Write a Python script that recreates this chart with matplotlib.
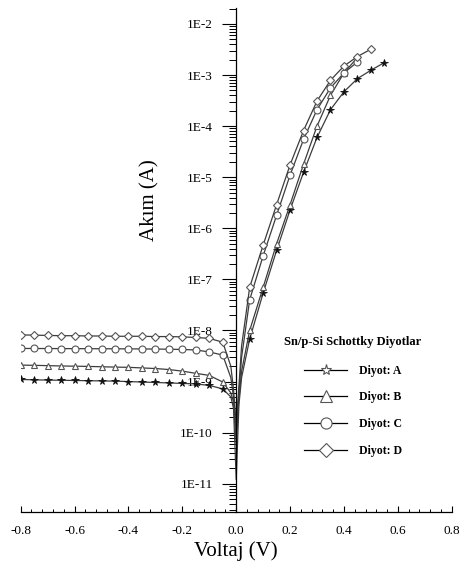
import math
import matplotlib
matplotlib.use("Agg")
import matplotlib.pyplot as plt
from matplotlib.lines import Line2D
from matplotlib.ticker import LogLocator, FixedLocator, MultipleLocator, FuncFormatter, NullFormatter

plt.rcParams['font.family'] = ['Liberation Serif', 'DejaVu Serif']
plt.rcParams['axes.unicode_minus'] = False

# I-V data for the four Sn/p-Si diodes (voltage in V, current in A)
v_a = [-0.80, -0.75, -0.70, -0.65, -0.60, -0.55, -0.50, -0.45, -0.40, -0.35, -0.30,
       -0.25, -0.20, -0.15, -0.10, -0.05, -0.02, -0.01, 0.00, 0.01, 0.02,
       0.05, 0.10, 0.15, 0.20, 0.25, 0.30, 0.35, 0.40, 0.45, 0.50, 0.55]
i_a = [1.10e-9, 1.08e-9, 1.07e-9, 1.06e-9, 1.05e-9, 1.04e-9, 1.03e-9, 1.02e-9, 1.00e-9, 0.98e-9, 0.96e-9,
       0.94e-9, 0.92e-9, 0.90e-9, 0.84e-9, 0.72e-9, 5.0e-10, 3.0e-10, 1.2e-11, 3.5e-10, 1.2e-9,
       6.8e-9, 5.4e-8, 3.7e-7, 2.3e-6, 1.25e-5, 6.0e-5, 2.1e-4, 4.7e-4, 8.5e-4, 1.24e-3, 1.75e-3]

v_b = [-0.80, -0.75, -0.70, -0.65, -0.60, -0.55, -0.50, -0.45, -0.40, -0.35, -0.30,
       -0.25, -0.20, -0.15, -0.10, -0.05, -0.02, -0.01, 0.00, 0.01, 0.02,
       0.05, 0.10, 0.15, 0.20, 0.25, 0.30, 0.35, 0.40, 0.45]
i_b = [2.10e-9, 2.08e-9, 2.05e-9, 2.02e-9, 2.00e-9, 1.98e-9, 1.95e-9, 1.92e-9, 1.90e-9, 1.85e-9, 1.80e-9,
       1.72e-9, 1.60e-9, 1.45e-9, 1.32e-9, 9.8e-10, 6.0e-10, 4.0e-10, 6.0e-11, 4.5e-10, 1.6e-9,
       1.0e-8, 7.0e-8, 5.0e-7, 2.9e-6, 1.8e-5, 1.0e-4, 4.0e-4, 1.1e-3, 2.2e-3]

v_c = [-0.80, -0.75, -0.70, -0.65, -0.60, -0.55, -0.50, -0.45, -0.40, -0.35, -0.30,
       -0.25, -0.20, -0.15, -0.10, -0.05, -0.02, -0.01, 0.00, 0.01, 0.02,
       0.05, 0.10, 0.15, 0.20, 0.25, 0.30, 0.35, 0.40, 0.45]
i_c = [4.45e-9, 4.44e-9, 4.43e-9, 4.42e-9, 4.41e-9, 4.40e-9, 4.39e-9, 4.38e-9, 4.37e-9, 4.35e-9, 4.33e-9,
       4.30e-9, 4.25e-9, 4.15e-9, 3.80e-9, 3.30e-9, 1.2e-9, 5.0e-10, 1.0e-10, 6.0e-10, 3.0e-9,
       4.0e-8, 2.9e-7, 1.8e-6, 1.1e-5, 5.5e-5, 2.1e-4, 5.6e-4, 1.1e-3, 1.8e-3]

v_d = [-0.80, -0.75, -0.70, -0.65, -0.60, -0.55, -0.50, -0.45, -0.40, -0.35, -0.30,
       -0.25, -0.20, -0.15, -0.10, -0.05, -0.02, -0.01, 0.00, 0.01, 0.02,
       0.05, 0.10, 0.15, 0.20, 0.25, 0.30, 0.35, 0.40, 0.45, 0.50]
i_d = [8.2e-9, 8.1e-9, 8.0e-9, 7.9e-9, 7.9e-9, 7.8e-9, 7.8e-9, 7.7e-9, 7.7e-9, 7.7e-9, 7.6e-9,
       7.6e-9, 7.5e-9, 7.3e-9, 7.0e-9, 5.9e-9, 2.0e-9, 7.0e-10, 1.5e-10, 8.0e-10, 5.0e-9,
       7.0e-8, 4.7e-7, 2.9e-6, 1.75e-5, 8.2e-5, 3.1e-4, 7.9e-4, 1.5e-3, 2.3e-3, 3.2e-3]

labels = ['Diyot: A', 'Diyot: B', 'Diyot: C', 'Diyot: D']
decades = [1e-11, 1e-10, 1e-9, 1e-8, 1e-7, 1e-6, 1e-5, 1e-4, 1e-3, 1e-2]

fig = plt.figure(figsize=(4.6, 5.68), dpi=100)
ax = fig.add_axes([0.045, 1 - 512 / 568, 0.937, 504 / 568])

line_col = '#3c3c3c'
edge_col = '#555555'
skip = [16, 17, 18, 19, 20]  # dense points around 0 V drawn without markers


def marks(v):
    return [k for k in range(len(v)) if k not in skip]


def sci_label(y, pos):
    return '1E-%d' % round(-math.log10(y))


ax.plot(v_a, i_a, color=line_col, lw=0.9, marker='*', ms=5.5, mfc='#111111', mec='#111111',
        mew=0.6, markevery=marks(v_a))
ax.plot(v_b, i_b, color=line_col, lw=0.9, marker='^', ms=5, mfc='white', mec=edge_col,
        mew=0.8, markevery=marks(v_b))
ax.plot(v_c, i_c, color=line_col, lw=0.9, marker='o', ms=5, mfc='white', mec=edge_col,
        mew=0.8, markevery=marks(v_c))
ax.plot(v_d, i_d, color=line_col, lw=0.9, marker='D', ms=4.2, mfc='white', mec=edge_col,
        mew=0.8, markevery=marks(v_d))

ax.set_yscale('log')
ax.set_xlim(-0.8, 0.8)
ax.set_ylim(2.8e-12, 2.05e-2)

# y axis sits at 0 V, only bottom axis line kept
ax.spines['left'].set_position(('data', 0))
ax.spines['right'].set_visible(False)
ax.spines['top'].set_visible(False)
for s in ('left', 'bottom'):
    ax.spines[s].set_linewidth(0.9)

ax.yaxis.set_major_locator(FixedLocator(decades))
ax.yaxis.set_minor_locator(LogLocator(base=10, subs=range(2, 10), numticks=30))
ax.yaxis.set_major_formatter(FuncFormatter(sci_label))
ax.yaxis.set_minor_formatter(NullFormatter())
ax.tick_params(axis='y', which='major', direction='out', length=10, width=0.8, pad=7, labelsize=9.5)
ax.tick_params(axis='y', which='minor', direction='out', length=5, width=0.7)

ax.xaxis.set_major_locator(MultipleLocator(0.2))
ax.xaxis.set_minor_locator(MultipleLocator(0.04))
ax.xaxis.set_major_formatter(FuncFormatter(lambda x, p: '%.1f' % (0.0 if abs(x) < 1e-9 else x)))
ax.tick_params(axis='x', which='major', direction='in', length=4, width=0.8, pad=9, labelsize=9.5)
ax.tick_params(axis='x', which='minor', direction='in', length=2.5, width=0.7)

ax.set_ylabel('Akım (A)', fontsize=15)
ax.yaxis.set_label_coords(0.323, 0.619)
ax.set_xlabel('Voltaj (V)', fontsize=15)
ax.xaxis.set_label_coords(0.5, -0.058)

handles = [
    Line2D([], [], color='black', lw=0.9, marker='*', ms=8, mfc='white', mec=edge_col, mew=0.8),
    Line2D([], [], color='black', lw=0.9, marker='^', ms=8, mfc='white', mec=edge_col, mew=0.8),
    Line2D([], [], color='black', lw=0.9, marker='o', ms=8, mfc='white', mec=edge_col, mew=0.8),
    Line2D([], [], color='black', lw=0.9, marker='D', ms=7, mfc='white', mec=edge_col, mew=0.8),
]
leg = ax.legend(handles, labels, title='Sn/p-Si Schottky Diyotlar', frameon=False,
                loc='upper center', bbox_to_anchor=(353 / 460, 1 - 336 / 568),
                bbox_transform=fig.transFigure, borderpad=0, borderaxespad=0,
                handlelength=3.7, handletextpad=1.0, labelspacing=1.25,
                prop={'weight': 'bold', 'size': 8.5},
                title_fontproperties={'weight': 'bold', 'size': 9})
leg._legend_box.sep = 12

fig.savefig('out.png', dpi=100)
